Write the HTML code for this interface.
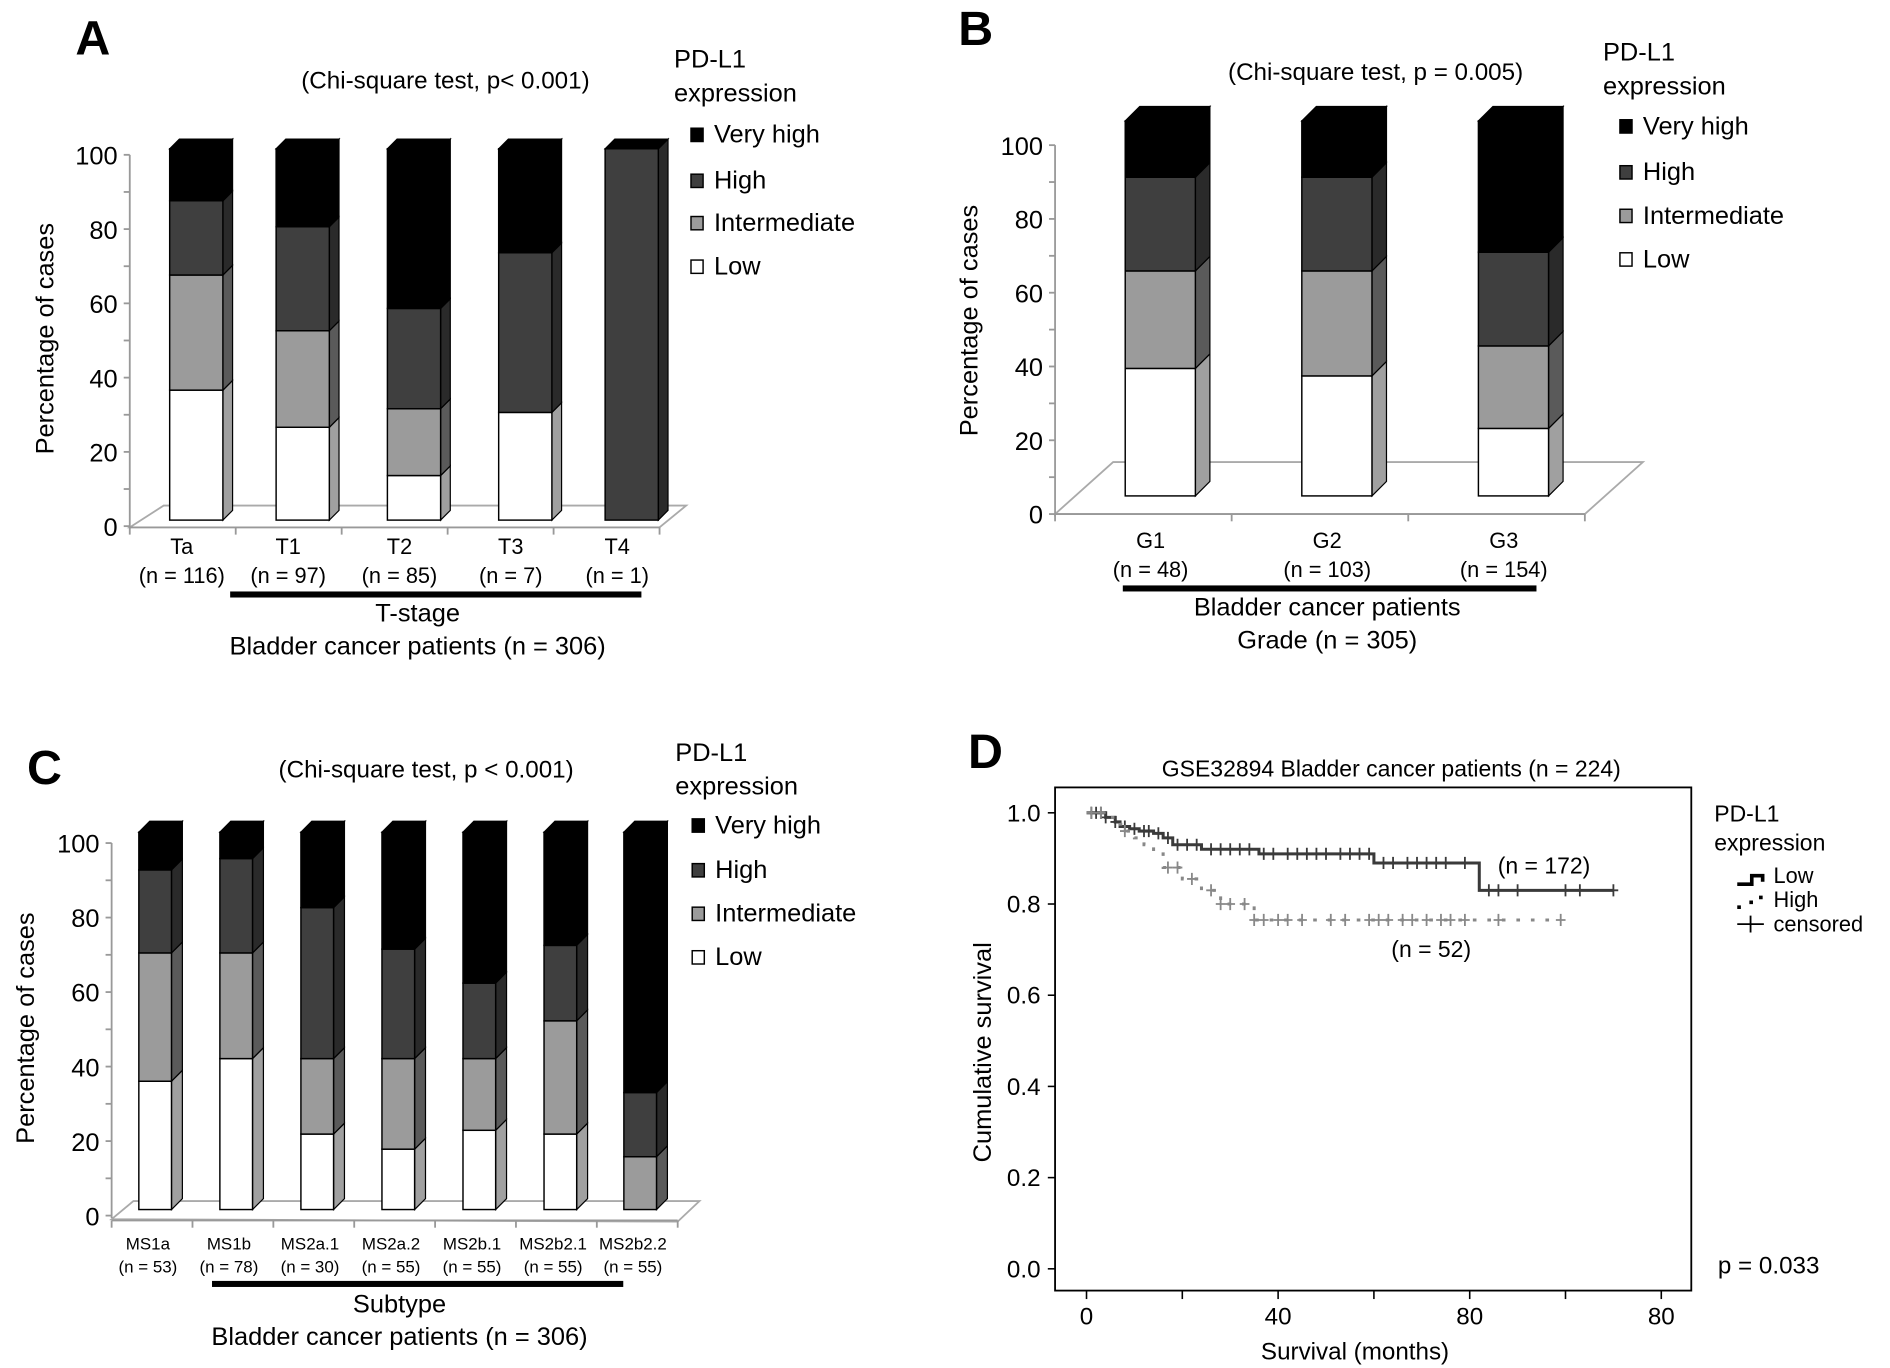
<!DOCTYPE html>
<html><head><meta charset="utf-8"><style>
html,body{margin:0;padding:0;background:#fff;}
svg{display:block;font-family:"Liberation Sans",Arial,sans-serif;}
</style></head><body>
<svg id="fig" width="1890" height="1368" viewBox="0 0 1562 1131" xmlns="http://www.w3.org/2000/svg"></svg>
<script>
// ---- Data ----
const levels = ["Low","Intermediate","High","Very high"];
const catsA = ["Ta","T1","T2","T3","T4"];
const nA = ["(n = 116)","(n = 97)","(n = 85)","(n = 7)","(n = 1)"];
const lowA = [35,25,12,29,0];
const intA = [31,26,18,0,0];
const highA = [20,28,27,43,100];
const vhA = [14,21,43,28,0];

const catsB = ["G1","G2","G3"];
const nB = ["(n = 48)","(n = 103)","(n = 154)"];
const lowB = [34,32,18];
const intB = [26,28,22];
const highB = [25,25,25];
const vhB = [15,15,35];

const catsC = ["MS1a","MS1b","MS2a.1","MS2a.2","MS2b.1","MS2b2.1","MS2b2.2"];
const nC = ["(n = 53)","(n = 78)","(n = 30)","(n = 55)","(n = 55)","(n = 55)","(n = 55)"];
const lowC = [34,40,20,16,21,20,0];
const intC = [34,28,20,24,19,30,14];
const highC = [22,25,40,29,20,20,17];
const vhC = [10,7,20,31,40,30,69];

const yTicksPct = [0,20,40,60,80,100];

// KM data (months, survival)
const lowKmT = [0,4,6,7,9,11,14,16,18,24,36,60,82,110];
const lowKmS = [1.0,0.99,0.98,0.97,0.965,0.96,0.955,0.945,0.93,0.92,0.91,0.89,0.83,0.83];
const lowCens = [1,2,3,4,6,8,10,12,13,15,17,19,21,23,26,28,30,32,34,37,39,42,44,46,48,50,53,55,57,59,62,64,67,69,71,73,75,79,84,86,90,100,103,110];
const highKmT = [0,5,6,8,10,12,14,16,20,24,28,30,35,99];
const highKmS = [1.0,0.99,0.975,0.96,0.945,0.93,0.91,0.88,0.855,0.83,0.80,0.80,0.765,0.765];
const highCens = [1,3,8,17,19,22,26,28,30,33,35,37,40,42,45,51,54,59,61,63,66,68,71,74,76,79,86,99];
const kmYTicks = [0.0,0.2,0.4,0.6,0.8,1.0];
const kmXTicks = ["0","","40","","80","","80"];

// ---- helpers ----
const svg = document.getElementById('fig');
const NS = "http://www.w3.org/2000/svg";
function mk(tag, attrs, parent){
  const e = document.createElementNS(NS, tag);
  for (const k in attrs) e.setAttribute(k, attrs[k]);
  (parent||svg).appendChild(e);
  return e;
}
function txt(x,y,s,size,anchor,parent,extra){
  const t = mk('text',Object.assign({x:x,y:y,'font-size':size,'text-anchor':anchor||'start',fill:'#000'},extra||{}),parent);
  t.textContent = s;
  return t;
}
const fronts = ["#ffffff","#9b9b9b","#3f3f3f","#000000"];
const sides = ["#a0a0a0","#5a5a5a","#2a2a2a","#000000"];

function barPanel(p){
  const g = mk('g',{});
  
  
  const fl = mk('polygon',{points:p.floor,fill:'#fff',stroke:'#aaa','stroke-width':1.5},g);
  
  
  const ax = mk('line',{x1:p.ax,y1:p.yAx(100),x2:p.ax,y2:p.yAx(0)+2,stroke:'#999','stroke-width':1.5},g);
  
  
  for (let v=0; v<=100; v+=10){
    mk('line',{x1:p.ax-5,y1:p.yAx(v),x2:p.ax,y2:p.yAx(v),stroke:'#999','stroke-width':1.5},g);
  }
  yTicksPct.forEach(v=>{
    const t = txt(p.ax-10,p.yAx(v)+8,String(v),p.tickFs,'end',g);
    
    
  });
  const xb = p.floorBottom;
  mk('line',{x1:p.ax,y1:xb,x2:p.floorRight,y2:xb,stroke:'#999','stroke-width':1.5},g);
  for (let i=0;i<=p.cats.length;i++){
    const x = p.ax + (p.floorRight-p.ax)*i/p.cats.length;
    mk('line',{x1:x,y1:xb,x2:x,y2:xb+6,stroke:'#999','stroke-width':1.5},g);
  }
  p.cats.forEach((c,i)=>{
    const vals = [p.low[i],p.int[i],p.high[i],p.vh[i]];
    const cx = p.centers[i], w = p.barW, x0 = cx - w/2, d = p.depth;
    let cum = 0;
    const bg = mk('g',{},g);
    
    
    vals.forEach((v,k)=>{
      if (v<=0) return;
      const y1 = p.base - cum*p.px, y2 = p.base - (cum+v)*p.px;
      const side = mk('polygon',{points:`${x0+w},${y1} ${x0+w+d},${y1-d} ${x0+w+d},${y2-d} ${x0+w},${y2}`,fill:sides[k],stroke:'#000','stroke-width':1},bg);
      
      
      const r = mk('rect',{x:x0,y:y2,width:w,height:y1-y2,fill:fronts[k],stroke:'#000','stroke-width':1.2},bg);
      
      
      cum += v;
    });
    const yt = p.base - cum*p.px;
    const top = mk('polygon',{points:`${x0},${yt} ${x0+d},${yt-d} ${x0+w+d},${yt-d} ${x0+w},${yt}`,fill:'#000',stroke:'#000','stroke-width':1},bg);
    
    
    const l1 = txt(cx+p.labShift,p.lab1,c,p.labFs,'middle',g);
    
    
    const l2 = txt(cx+p.labShift,p.lab2,p.ns[i],p.labFs,'middle',g);
    
    
  });
  const yt = txt(0,0,'Percentage of cases',21,'middle',g,{transform:`translate(${p.yTitleX},${p.yTitleY}) rotate(-90)`});
  
  
  const bb = mk('rect',{x:p.bar[0],y:p.bar[1],width:p.bar[2]-p.bar[0],height:5,fill:'#000'},g);
  
  
  p.groupLabels.forEach(gl=>{
    const t = txt(gl[0],gl[1],gl[2],21,'middle',g);
    
    
  });
  const title = txt(p.title[0],p.title[1],p.title[2],20,'middle',g);
  
  
  const letter = txt(p.letter[0],p.letter[1],p.letter[2],40,'start',g,{'font-weight':'bold'});
  
  
  const lg = mk('g',{},g);
  
  
  txt(p.leg[0],p.leg[1],'PD-L1',21,'start',lg);
  txt(p.leg[0],p.leg[1]+28,'expression',21,'start',lg);
  const order = [3,2,1,0];
  order.forEach((k,j)=>{
    const y = p.legItems[j];
    const sq = mk('rect',{x:p.leg[0]+14,y:y-12,width:10,height:11,fill:fronts[k],stroke:'#000','stroke-width':1.2},lg);
    
    
    const t = txt(p.leg[0]+33,y,levels[k],21,'start',lg);
    
    
  });
}

barPanel({name:'panel-a',cats:catsA,ns:nA,low:lowA,int:intA,high:highA,vh:vhA,
  ax:107,yAx:v=>435-v*3.07,base:430,px:3.07,barW:44,depth:8,centers:[162,250,342,434,522],
  floor:"107,436 135,418 567,418 545,436",floorBottom:436,floorRight:545,
  tickFs:21,labFs:18,labShift:-12,lab1:458,lab2:482,
  yTitleX:44,yTitleY:280,bar:[190,489,530],
  groupLabels:[[345,514,'T-stage'],[345,541,'Bladder cancer patients (n = 306)']],
  title:[368,73,'(Chi-square test,  p< 0.001)'],letter:[62,45,'A'],
  leg:[557,56],legItems:[118,156,191,227]});

barPanel({name:'panel-b',cats:catsB,ns:nB,low:lowB,int:intB,high:highB,vh:vhB,
  ax:872,yAx:v=>425-v*3.05,base:410,px:3.1,barW:58,depth:12,centers:[959,1105,1251],
  floor:"872,425 920,382 1358,382 1310,425",floorBottom:425,floorRight:1310,
  tickFs:21,labFs:18,labShift:-8,lab1:453,lab2:477,
  yTitleX:808,yTitleY:265,bar:[928,484,1270],
  groupLabels:[[1097,509,'Bladder cancer patients'],[1097,536,'Grade (n = 305)']],
  title:[1137,66,'(Chi-square test,  p = 0.005)'],letter:[792,37,'B'],
  leg:[1325,50],legItems:[111,149,185,221]});

barPanel({name:'panel-c',cats:catsC,ns:nC,low:lowC,int:intC,high:highC,vh:vhC,
  ax:92,yAx:v=>1005-v*3.08,base:1000,px:3.12,barW:27,depth:9,centers:[128,195,262,329,396,463,529],
  floor:"92,1008 110,993 578,993 560,1010",floorBottom:1009,floorRight:560,
  tickFs:21,labFs:14,labShift:-6,lab1:1033,lab2:1052,
  yTitleX:28,yTitleY:850,bar:[175,1059,515],
  groupLabels:[[330,1085,'Subtype'],[330,1112,'Bladder cancer patients (n = 306)']],
  title:[352,643,'(Chi-square test,  p < 0.001)'],letter:[22,648,'C'],
  leg:[558,629],legItems:[689,726,762,798]});

// ---- Panel D: Kaplan-Meier ----
const gD = mk('g',{});


const X = m => 898 + m*3.96;
const Y = s => 1049 - s*377;
const box = mk('rect',{x:872,y:651,width:526,height:416,fill:'none',stroke:'#000','stroke-width':1.5},gD);


kmYTicks.forEach(v=>{
  mk('line',{x1:866,y1:Y(v),x2:872,y2:Y(v),stroke:'#000','stroke-width':1.3},gD);
  const t = txt(860,Y(v)+7,v.toFixed(1),20,'end',gD);
  
  
});
kmXTicks.forEach((s,i)=>{
  const x = X(i*20);
  mk('line',{x1:x,y1:1067,x2:x,y2:1074,stroke:'#000','stroke-width':1.3},gD);
  if (s){
    const t = txt(x,1095,s,20,'middle',gD);
    
    
  }
});
function stepPath(ts, ss){
  let d = `M${X(ts[0])},${Y(ss[0])}`;
  for (let i=1;i<ts.length;i++){
    d += ` H${X(ts[i])} V${Y(ss[i])}`;
  }
  return d;
}
function survAt(ts, ss, t){
  let s = ss[0];
  for (let i=0;i<ts.length;i++){ if (ts[i] <= t) s = ss[i]; }
  return s;
}
const lowLine = mk('path',{d:stepPath(lowKmT,lowKmS),fill:'none',stroke:'#3a3a3a','stroke-width':2.5},gD);


const highLine = mk('path',{d:stepPath(highKmT,highKmS),fill:'none',stroke:'#888','stroke-width':2.5,'stroke-dasharray':'3 9'},gD);


lowCens.forEach(t=>{
  const x = X(t), y = Y(survAt(lowKmT,lowKmS,t));
  const c = mk('path',{d:`M${x-4},${y} H${x+4} M${x},${y-5} V${y+5}`,stroke:'#3a3a3a','stroke-width':1.5},gD);
  
  
});
highCens.forEach(t=>{
  const x = X(t), y = Y(survAt(highKmT,highKmS,t));
  const c = mk('path',{d:`M${x-4},${y} H${x+4} M${x},${y-5} V${y+5}`,stroke:'#888','stroke-width':1.5},gD);
  
  
});
const dTitle = txt(1150,642,'GSE32894 Bladder cancer patients (n = 224)',19,'middle',gD);


const dX = txt(1120,1124,'Survival (months)',20,'middle',gD);


const dY = txt(0,0,'Cumulative survival',21,'middle',gD,{transform:'translate(819,870) rotate(-90)'});


const dL = txt(800,635,'D',40,'start',gD,{'font-weight':'bold'});


const n1 = txt(1238,722,'(n = 172)',19,'start',gD);


const n2 = txt(1150,791,'(n = 52)',19,'start',gD);


const pv = txt(1420,1053,'p = 0.033',20,'start',gD);


const lgD = mk('g',{},gD);


txt(1417,679,'PD-L1',19,'start',lgD);
txt(1417,703,'expression',19,'start',lgD);
mk('path',{d:'M1436,731 H1448 V724 H1457 V729',fill:'none',stroke:'#000','stroke-width':3},lgD);
txt(1466,730,'Low',18,'start',lgD);
mk('path',{d:'M1436,750 h3 M1446,746 h3 M1454,742 h3',fill:'none',stroke:'#000','stroke-width':3},lgD);
txt(1466,750,'High',18,'start',lgD);
mk('path',{d:'M1436,764 H1458 M1447,757 V771',fill:'none',stroke:'#000','stroke-width':1.5},lgD);
txt(1466,770,'censored',18,'start',lgD);
</script>
</body></html>
